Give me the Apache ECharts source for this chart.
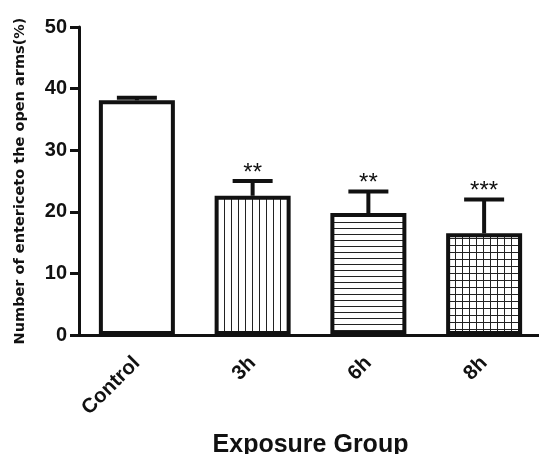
<!DOCTYPE html>
<html>
<head>
<meta charset="utf-8">
<script src="https://cdn.jsdelivr.net/npm/echarts@6/dist/echarts.min.js"></script>
<style>
  html, body { margin: 0; padding: 0; background: #fff; }
  #chart { width: 539px; height: 454px; }
</style>
</head>
<body>
<div id="chart"></div>
<script>
const categories = ['Control', '3h', '6h', '8h'];
const means = [38.1, 22.6, 19.8, 16.5];
const errTops = [38.5, 25.0, 23.3, 22.0];
const marks = ['', '**', '**', '***'];
const yTicks = [0, 10, 20, 30, 40, 50];

const font = 'Liberation Sans, Arial, sans-serif';

// hatch patterns like the GraphPad bars
function makePattern(kind) {
  const c = document.createElement('canvas');
  const s = kind === 'h' ? 6 : 7;
  c.width = s; c.height = s;
  const g = c.getContext('2d');
  g.fillStyle = '#fff';
  g.fillRect(0, 0, s, s);
  g.fillStyle = '#222';
  if (kind === 'v' || kind === 'grid') g.fillRect(0, 0, 1, s);
  if (kind === 'h' || kind === 'grid') g.fillRect(0, 0, s, 1);
  return { image: c, repeat: 'repeat' };
}
const fills = ['#fff', makePattern('v'), makePattern('h'), makePattern('grid')];

const chart = echarts.init(document.getElementById('chart'));
chart.setOption({
  animation: false,
  grid: { left: 79, top: 27, width: 463, height: 308, outerBoundsMode: 'none', containLabel: false },
  xAxis: {
    type: 'category',
    data: categories,
    axisLine: { lineStyle: { color: '#111', width: 3 } },
    axisTick: { alignWithLabel: true, length: 8, lineStyle: { color: '#111', width: 3 } },
    axisLabel: {
      rotate: 45, color: '#111', fontSize: 20.5, fontWeight: 'bold',
      fontFamily: font, margin: 25
    },
    name: 'Exposure Group',
    nameLocation: 'middle',
    nameGap: 98,
    nameTextStyle: { color: '#111', fontSize: 25, fontWeight: 'bold', fontFamily: font }
  },
  yAxis: {
    type: 'value',
    min: 0, max: 50, interval: 10,
    axisLine: { show: true, lineStyle: { color: '#111', width: 3 } },
    axisTick: { show: true, length: 9, lineStyle: { color: '#111', width: 3 } },
    splitLine: { show: false },
    axisLabel: {
      color: '#111', fontSize: 20, fontWeight: 'bold',
      fontFamily: font, margin: 12,
      formatter: v => yTicks.includes(v) ? String(v) : ''
    },
    name: 'Number of entericeto the open arms(%)',
    nameLocation: 'middle',
    nameGap: 51,
    nameTextStyle: { color: '#111', fontSize: 14.5, fontWeight: 'bold', fontFamily: 'DejaVu Sans, sans-serif' }
  },
  series: [
    {
      type: 'bar',
      barWidth: 76,
      data: means.map((v, i) => ({
        value: v,
        itemStyle: { color: fills[i], borderColor: '#111', borderWidth: 4 }
      })),
      z: 2
    },
    {
      type: 'custom',
      z: 3,
      data: categories.map((c, i) => [i, means[i], errTops[i]]),
      renderItem: (params, api) => {
        const base = api.coord([api.value(0), api.value(1)]);
        const top = api.coord([api.value(0), api.value(2)]);
        const half = 20;
        const st = { stroke: '#111', lineWidth: 4 };
        return {
          type: 'group',
          children: [
            { type: 'line', shape: { x1: base[0], y1: base[1], x2: top[0], y2: top[1] }, style: st },
            { type: 'line', shape: { x1: top[0] - half, y1: top[1], x2: top[0] + half, y2: top[1] }, style: st },
            {
              type: 'text',
              style: {
                text: marks[params.dataIndex], x: top[0], y: top[1] + 4,
                align: 'center', verticalAlign: 'bottom',
                fill: '#111', fontSize: 24, fontFamily: font
              }
            }
          ]
        };
      }
    }
  ]
});
</script>
</body>
</html>
